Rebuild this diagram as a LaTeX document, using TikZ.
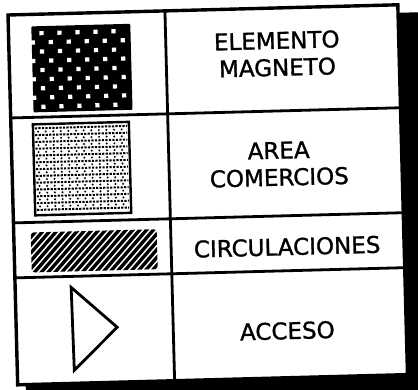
\documentclass[tikz,border=0pt]{standalone}
\usepackage{fontspec}
\setmainfont{DejaVu Sans}
\newfontfamily\legendfont{DejaVu Sans}[FakeBold=1.2]
\usetikzlibrary{calc}
\tikzset{
  frame/.style={line width=3.4pt, draw=black},
  rule/.style={line width=2.8pt, draw=black},
  swatch/.style={line width=2.4pt, draw=black},
  hatchline/.style={line width=3.4pt, draw=black},
  dotline/.style={line width=2pt, draw=black, dash pattern=on 2.2pt off 1.3pt},
  legendtext/.style={font=\legendfont\fontsize{23}{27}\selectfont, align=center, inner sep=0pt}
}

\begin{document}
\begin{tikzpicture}[x=1pt, y=-1pt]
  \useasboundingbox (0,0) rectangle (418,389);
  \clip (0,0) rectangle (418,389);
  \begin{scope}[shift={(8,15)}, rotate=1.5, transform shape]
    \coordinate (tl) at (0,0);
    \coordinate (tr) at (390,0);
    \coordinate (bl) at (0,370);
    \coordinate (br) at (390,370);
    \coordinate (coltop) at (157,0);
    \coordinate (colbot) at (157,370);
    \coordinate (row1l) at (0,103);   \coordinate (row1r) at (390,103);
    \coordinate (row2l) at (0,208);   \coordinate (row2r) at (390,208);
    \coordinate (row3l) at (0,263);   \coordinate (row3r) at (390,263);

    % shadow
    \fill[black] (8,8) rectangle (430,390);
    \fill[white] (tl) rectangle (br);

    % elemento magneto
    \fill[black, rounded corners=1pt] (23,12) rectangle (122,98);
    \foreach \r in {0,...,8} {
      \pgfmathsetmacro{\v}{19+9.2*\r}
      \ifodd\r
        \foreach \c in {0,...,5} {
          \fill[white] ({24+18*\c-2.1},{\v-2.1}) rectangle ++(4.2,4.2);
        }
      \else
        \foreach \c in {0,...,4} {
          \fill[white] ({33+18*\c-2.1},{\v-2.1}) rectangle ++(4.2,4.2);
        }
      \fi
    }

    % area comercios
    \draw[swatch] (22,110) rectangle (118,201);
    \foreach \r in {0,...,12} {
      \draw[dotline] (24,{114+6.8*\r}) -- (116,{114+6.8*\r});
    }
    \foreach \r in {0,...,11} {
      \foreach \c in {0,...,11} {
        \fill[black] ({27+7.6*\c},{117.4+6.8*\r}) circle (1.1);
      }
    }

    % circulaciones
    \begin{scope}
      \clip[rounded corners=3pt] (17,218) rectangle (143,258);
      \foreach \u in {-40,-33,...,150} {
        \draw[hatchline] (\u,262) -- ({\u+44},214);
      }
    \end{scope}

    % acceso
    \coordinate (ta) at (56,274);
    \coordinate (tb) at (101,315);
    \coordinate (tc) at (57,357);
    \draw[rule, line join=miter] (ta) -- (tb) -- (tc) -- cycle;

    % grid
    \draw[rule] (coltop) -- (colbot);
    \draw[rule] (row1l) -- (row1r);
    \draw[rule] (row2l) -- (row2r);
    \draw[rule] (row3l) -- (row3r);
    \draw[frame] (tl) rectangle (br);

    % texts
    \node[legendtext] (magneto)   at (268,46)  {ELEMENTO\\MAGNETO};
    \node[legendtext] (comercios) at (267,156) {AREA\\COMERCIOS};
    \node[legendtext] (circul)    at (273,239) {CIRCULACIONES};
    \node[legendtext] (acceso)    at (271,323) {ACCESO};
  \end{scope}
\end{tikzpicture}
\end{document}
